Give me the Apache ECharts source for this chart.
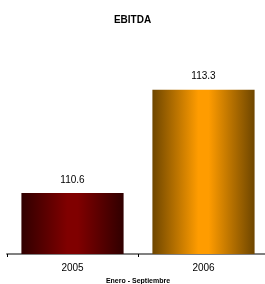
<!DOCTYPE html>
<html>
<head>
<meta charset="utf-8">
<script src="https://cdn.jsdelivr.net/npm/echarts@6/dist/echarts.min.js"></script>
<style>
html, body { margin: 0; padding: 0; background: #fff; }
#chart { width: 265px; height: 284px; }
</style>
</head>
<body>
<div id="chart"></div>
<script>
var years = ['2005', '2006'];
var ebitda = [110.6, 113.3];
var barEdge = ['#300000', '#6e4600'];
var barMid = ['#800000', '#ff9c00'];

var chart = echarts.init(document.getElementById('chart'));

var option = {
    animation: false,
    title: {
        text: 'EBITDA',
        left: 'center',
        top: 10,
        textStyle: { fontFamily: 'Liberation Sans', fontSize: 10, fontWeight: 'bold', color: '#000' }
    },
    grid: { left: 7, right: -4, top: 63, bottom: 30, outerBoundsMode: 'none', containLabel: false },
    xAxis: {
        type: 'category',
        data: years,
        name: 'Enero - Septiembre',
        nameLocation: 'middle',
        nameGap: 22,
        nameTextStyle: { fontFamily: 'Liberation Sans', fontSize: 7, fontWeight: 'bold', color: '#000' },
        axisLine: { lineStyle: { color: '#808080', width: 2 } },
        axisTick: { show: true, length: 3, lineStyle: { color: '#000' } },
        axisLabel: { fontFamily: 'Liberation Sans', fontSize: 10, color: '#000', margin: 9 }
    },
    yAxis: {
        type: 'value',
        min: 109,
        max: 114,
        show: false
    },
    series: [{
        type: 'bar',
        barWidth: '78%',
        data: ebitda.map(function (v, i) {
            return {
                value: v,
                itemStyle: {
                    color: new echarts.graphic.LinearGradient(0, 0, 1, 0, [
                        { offset: 0, color: barEdge[i] },
                        { offset: 0.45, color: barMid[i] },
                        { offset: 0.55, color: barMid[i] },
                        { offset: 1, color: barEdge[i] }
                    ])
                }
            };
        }),
        label: {
            show: true,
            position: 'top',
            distance: 8,
            fontFamily: 'Liberation Sans',
            fontSize: 10,
            color: '#000',
            formatter: function (p) { return p.value.toFixed(1); }
        }
    }]
};

chart.setOption(option);
</script>
</body>
</html>
